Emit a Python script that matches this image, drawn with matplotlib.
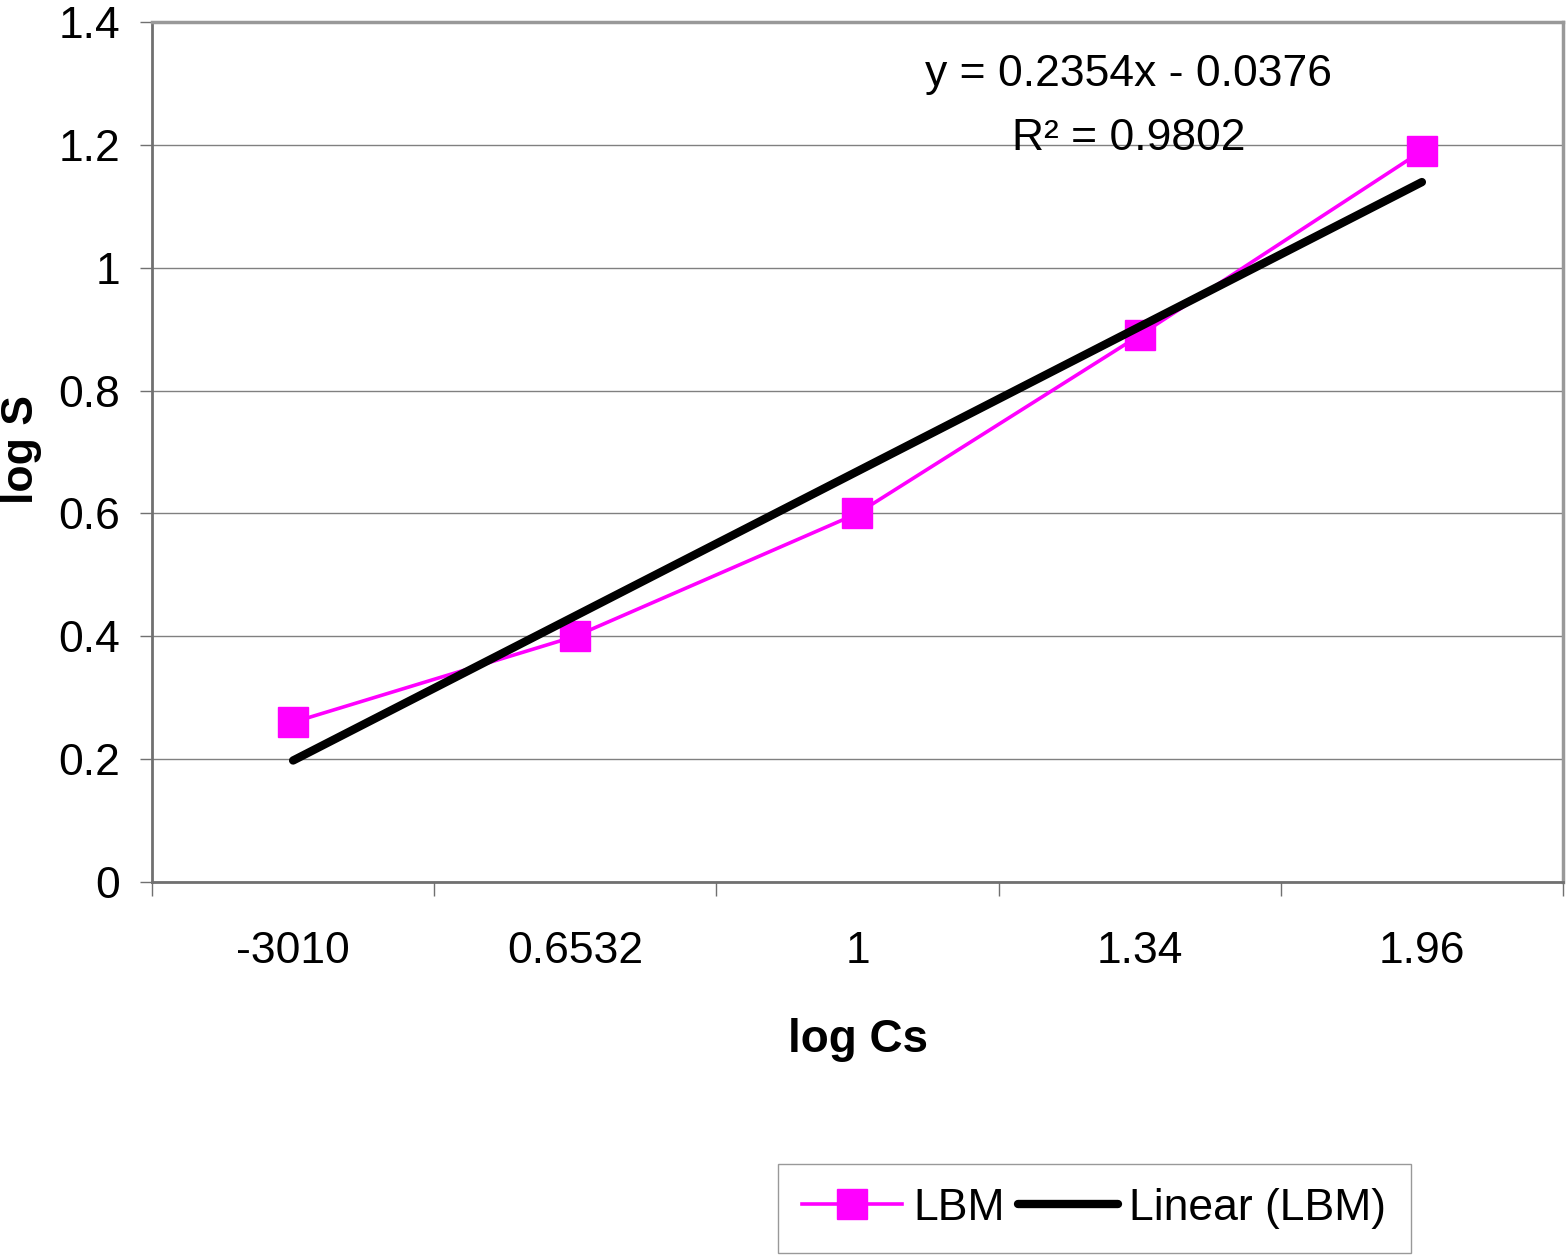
import matplotlib
matplotlib.use('Agg')
import numpy as np
import matplotlib.pyplot as plt
from matplotlib.ticker import FixedLocator, FuncFormatter

plt.rcParams['font.family'] = ['Liberation Sans', 'DejaVu Sans']

# data
categories = ['-3010', '0.6532', '1', '1.34', '1.96']
log_s = [0.26, 0.40, 0.60, 0.89, 1.19]
trend_slope = 0.2354
trend_intercept = -0.0376
r_squared = 0.9802
y_ticks = [0, 0.2, 0.4, 0.6, 0.8, 1.0, 1.2, 1.4]

fig = plt.figure(figsize=(15.68, 12.57), dpi=100)
ax = fig.add_axes([152/1568, 375/1257, 1411/1568, 860/1257])

xpos = np.arange(1, len(categories) + 1)
trend = trend_slope * xpos + trend_intercept

ax.plot(xpos, log_s, color='#FF00FF', lw=2.6, marker='s', ms=21,
        mec='#FF00FF', mfc='#FF00FF', label='LBM', zorder=3)
ax.plot(xpos, trend, color='black', lw=6, solid_capstyle='round',
        label='Linear (LBM)', zorder=4)

ax.set_xlim(0.5, len(categories) + 0.5)
ax.set_ylim(0, 1.4)

# category axis: labels at centres, tick marks between categories
ax.set_xticks(xpos)
ax.set_xticklabels(categories)
ax.xaxis.set_minor_locator(FixedLocator(np.arange(0.5, len(categories) + 1, 1)))
ax.tick_params(axis='x', which='major', length=0, pad=35, labelsize=32)
ax.tick_params(axis='x', which='minor', length=10, width=1, color='#707070',
               direction='out')

ax.set_yticks(y_ticks)
ax.yaxis.set_major_formatter(FuncFormatter(lambda v, p: '{:g}'.format(round(v, 2))))
ax.tick_params(axis='y', length=9, width=1, color='#707070', pad=14,
               labelsize=32)

ax.grid(axis='y', color='#808080', lw=1)
ax.set_axisbelow(True)

for s in ['left', 'bottom']:
    ax.spines[s].set_color('#707070')
    ax.spines[s].set_linewidth(2)
for s in ['top', 'right']:
    ax.spines[s].set_color('#999999')
    ax.spines[s].set_linewidth(2.5)

# trendline equation
ax.text(3.96, 1.314, 'y = %.4fx - %.4f' % (trend_slope, -trend_intercept),
        ha='center', va='center', fontsize=32)
ax.text(3.96, 1.211, 'R² = %.4f' % r_squared,
        ha='center', va='center', fontsize=32)

fig.text(22/1568, 807/1257, 'log S', rotation=90, ha='center', va='center',
         fontsize=32, fontweight='bold')
fig.text(858/1568, 217/1257, 'log Cs', ha='center', va='center',
         fontsize=33, fontweight='bold')

leg = fig.legend(loc='center', bbox_to_anchor=(0.698, 0.0386), ncol=2,
                 fontsize=32, frameon=True, fancybox=False, shadow=False,
                 handlelength=2.25, handletextpad=0.25, columnspacing=0.3,
                 borderpad=0.55, markerscale=1.0)
leg.get_frame().set_edgecolor('#808080')
leg.get_frame().set_linewidth(1)

fig.savefig('out.png', dpi=100)
